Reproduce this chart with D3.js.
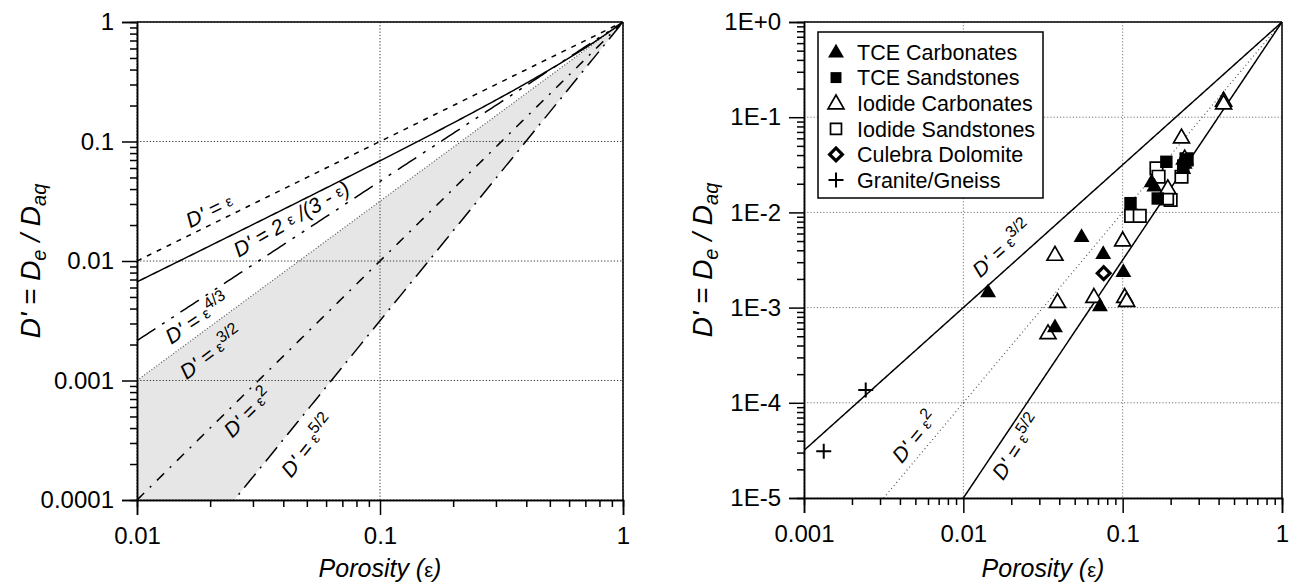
<!DOCTYPE html>
<html><head><meta charset="utf-8">
<script src="https://cdn.jsdelivr.net/npm/d3@7"></script>
<style>
body{margin:0;background:#fff;}
svg{display:block;font-family:"Liberation Sans",Arial,sans-serif;}
</style></head>
<body><svg id="c" width="1295" height="583"></svg>
<script>
// ---------- data ----------
const leftXTicks = [0.01, 0.1, 1];
const leftXTickLabels = ["0.01", "0.1", "1"];
const leftYTicks = [1, 0.1, 0.01, 0.001, 0.0001];
const leftYTickLabels = ["1", "0.1", "0.01", "0.001", "0.0001"];
const rightXTicks = [0.001, 0.01, 0.1, 1];
const rightXTickLabels = ["0.001", "0.01", "0.1", "1"];
const rightYTicks = [1, 0.1, 0.01, 0.001, 0.0001, 0.00001];
const rightYTickLabels = ["1E+0", "1E-1", "1E-2", "1E-3", "1E-4", "1E-5"];

// model curves: exponent n in D' = eps^n
const leftExponents = [1, 4/3, 3/2, 2, 5/2];
const rightExponents = [3/2, 2, 5/2];

// measured points [porosity, D']
const tceCarbonates = [[0.0143,0.00147],[0.0376,0.00063],[0.0552,0.0056],[0.0755,0.0037],[0.072,0.00105],[0.101,0.0024],[0.152,0.021],[0.158,0.019],[0.245,0.033],[0.24,0.029]];
const tceSandstones = [[0.112,0.0125],[0.166,0.014],[0.188,0.034],[0.24,0.031],[0.25,0.036]];
const iodideCarbonates = [[0.034,0.00054],[0.039,0.00115],[0.0376,0.0036],[0.066,0.0013],[0.1,0.0051],[0.103,0.0013],[0.106,0.00118],[0.192,0.018],[0.234,0.0615],[0.245,0.037],[0.43,0.15],[0.43,0.14]];
const iodideSandstones = [[0.113,0.0092],[0.128,0.0092],[0.163,0.029],[0.168,0.0237],[0.2,0.0135],[0.234,0.0237],[0.252,0.036],[0.19,0.014]];
const culebraDolomite = [[0.076,0.0023]];
const graniteGneiss = [[0.00133,0.000031],[0.00244,0.000136]];
const legendLabels = ["TCE Carbonates","TCE Sandstones","Iodide Carbonates","Iodide Sandstones","Culebra Dolomite","Granite/Gneiss"];

// ---------- drawing ----------
const svg = d3.select("#c");
const L = {x0:137, x1:623, y0:22, y1:500};
const R = {x0:804, x1:1282, y0:22, y1:498};

const lx = d3.scaleLog().domain([0.01,1]).range([L.x0,L.x1]);
const ly = d3.scaleLog().domain([0.0001,1]).range([L.y1,L.y0]);
const rx = d3.scaleLog().domain([0.001,1]).range([R.x0,R.x1]);
const ry = d3.scaleLog().domain([0.00001,1]).range([R.y1,R.y0]);

const TICKFONT = 24;

function minorTicks(dom){
  const out=[]; const lo=Math.round(Math.log10(dom[0])), hi=Math.round(Math.log10(dom[1]));
  for(let e=lo; e<hi; e++) for(let k=2;k<=9;k++) out.push(k*Math.pow(10,e));
  return out;
}
const defs = svg.append("defs");
function clip(P,id){
  defs.append("clipPath").attr("id",id).append("rect")
    .attr("x",P.x0).attr("y",P.y0).attr("width",P.x1-P.x0).attr("height",P.y1-P.y0);
}
function grid(P, sx, sy, xt, yt, color){
  const g = svg.append("g");
  g.selectAll(".gx").data(xt).join("line")
    .attr("x1",d=>sx(d)).attr("x2",d=>sx(d)).attr("y1",P.y0).attr("y2",P.y1)
    .attr("stroke",color).attr("stroke-width",1).attr("stroke-dasharray","1.2,2");
  g.selectAll(".gy").data(yt).join("line")
    .attr("y1",d=>sy(d)).attr("y2",d=>sy(d)).attr("x1",P.x0).attr("x2",P.x1)
    .attr("stroke",color).attr("stroke-width",1).attr("stroke-dasharray","1.2,2");
}
function axes(P, sx, sy, xt, xtl, yt, ytl){
  const ax = svg.append("g");
  const xMinor = d3.axisBottom(sx).tickValues(minorTicks(sx.domain())).tickSize(7).tickFormat("");
  const xMajor = d3.axisBottom(sx).tickValues(xt).tickSize(15).tickPadding(12).tickFormat((d,i)=>xtl[i]);
  const yMinor = d3.axisLeft(sy).tickValues(minorTicks(sy.domain())).tickSize(7).tickFormat("");
  const yMajor = d3.axisLeft(sy).tickValues(yt).tickSize(15).tickPadding(8).tickFormat((d,i)=>ytl[i]);
  ax.append("g").attr("transform",`translate(0,${P.y1})`).call(xMinor);
  ax.append("g").attr("transform",`translate(0,${P.y1})`).call(xMajor);
  ax.append("g").attr("transform",`translate(${P.x0},0)`).call(yMinor);
  ax.append("g").attr("transform",`translate(${P.x0},0)`).call(yMajor);
  ax.selectAll(".domain").attr("stroke","#000").attr("stroke-width",1.5);
  ax.selectAll(".tick line").attr("stroke","#000").attr("stroke-width",1.5);
  ax.selectAll(".tick text").attr("font-size",TICKFONT).attr("fill","#000").attr("font-family","Liberation Sans, Arial, sans-serif");
  ax.append("line").attr("x1",P.x0).attr("x2",P.x1).attr("y1",P.y0).attr("y2",P.y0).attr("stroke","#000").attr("stroke-width",1.5);
  ax.append("line").attr("x1",P.x1).attr("x2",P.x1).attr("y1",P.y0).attr("y2",P.y1).attr("stroke","#000").attr("stroke-width",1.5);
}
function yTitle(x, cy){
  const t = svg.append("text").attr("transform",`translate(${x},${cy}) rotate(-90)`)
    .attr("text-anchor","middle").attr("font-size",28).attr("font-style","italic");
  t.append("tspan").text("D' = D");
  t.append("tspan").attr("font-size",20).attr("dy",6).text("e");
  t.append("tspan").attr("dy",-6).text(" / D");
  t.append("tspan").attr("font-size",20).attr("dy",6).text("aq");
}
function xTitle(cx, y){
  const t = svg.append("text").attr("x",cx).attr("y",y).attr("text-anchor","middle").attr("font-size",25).attr("font-style","italic");
  t.append("tspan").text("Porosity (");
  t.append("tspan").attr("font-style","normal").attr("font-size",20).text("ε");
  t.append("tspan").text(")");
}
function label(g, cx, cy, ang, parts){
  const t = g.append("text").attr("transform",`translate(${cx},${cy}) rotate(${-ang})`)
    .attr("text-anchor","middle").attr("dominant-baseline","middle").attr("font-size",21).attr("font-style","italic");
  parts.forEach(p=>{
    const s=t.append("tspan").text(p.t);
    if(p.eps) s.attr("font-style","normal").attr("font-size",15);
    if(p.sup) s.attr("font-style","normal").attr("font-size",16).attr("dy",-7);
  });
}

// ===== LEFT PLOT =====
clip(L,"clipL");
const epsGrid = d3.range(-2, 0.0001, 0.01).map(e=>Math.pow(10,e));
const bandG = svg.append("g").attr("clip-path","url(#clipL)");
const band = d3.area().x(d=>lx(d)).y0(d=>ly(Math.pow(d,leftExponents[4]))).y1(d=>ly(Math.pow(d,leftExponents[2])));
bandG.append("path").attr("d",band(epsGrid)).attr("fill","#e6e6e6");
grid(L, lx, ly, leftXTicks, leftYTicks, "#333");
const cL = svg.append("g").attr("clip-path","url(#clipL)");
const lineL = n => d3.line().x(d=>lx(d)).y(d=>ly(Math.pow(d,n)));
const styles = ["5,6","22,8,3,8,3,8","1,2","10,8,2,8","18,7,2,7"];
leftExponents.forEach((n,i)=>{
  cL.append("path").attr("d",lineL(n)(epsGrid)).attr("fill","none")
    .attr("stroke", i===2?"#555":"#000").attr("stroke-width", i===2?1.2:1.5).attr("stroke-dasharray",styles[i]);
});
cL.append("path").attr("d",d3.line().x(d=>lx(d)).y(d=>ly(2*d/(3-d)))(epsGrid))
  .attr("fill","none").attr("stroke","#000").attr("stroke-width",1.5);
axes(L, lx, ly, leftXTicks, leftXTickLabels, leftYTicks, leftYTickLabels);

const labL = svg.append("g");
const angL = n => Math.atan(n*119.5/243)*180/Math.PI;
label(labL, 210, 212, angL(1), [{t:"D' = "},{t:"ε",eps:true}]);
label(labL, 292, 220, 30, [{t:"D' = 2 "},{t:"ε",eps:true},{t:" /(3 - "},{t:"ε",eps:true},{t:")"}]);
label(labL, 198, 320, angL(4/3), [{t:"D' = "},{t:"ε",eps:true},{t:"4/3",sup:true}]);
label(labL, 212, 354, angL(1.5), [{t:"D' = "},{t:"ε",eps:true},{t:"3/2",sup:true}]);
label(labL, 249, 414, angL(2), [{t:"D' = "},{t:"ε",eps:true},{t:"2",sup:true}]);
label(labL, 309, 447, angL(2.5), [{t:"D' = "},{t:"ε",eps:true},{t:"5/2",sup:true}]);

yTitle(40, 261);
xTitle(380, 577);

// ===== RIGHT PLOT =====
clip(R,"clipR");
grid(R, rx, ry, rightXTicks, rightYTicks, "#777");
const cR = svg.append("g").attr("clip-path","url(#clipR)");
const epsGridR = d3.range(-3, 0.0001, 0.01).map(e=>Math.pow(10,e));
const lineR = n => d3.line().x(d=>rx(d)).y(d=>ry(Math.pow(d,n)));
rightExponents.forEach((n,i)=>{
  cR.append("path").attr("d",lineR(n)(epsGridR)).attr("fill","none")
    .attr("stroke", i===1?"#555":"#000").attr("stroke-width", i===1?1.2:1.5)
    .attr("stroke-dasharray", i===1?"1,3":null);
});
axes(R, rx, ry, rightXTicks, rightXTickLabels, rightYTicks, rightYTickLabels);

const labR = svg.append("g");
const angR = n => Math.atan(n*95.2/159.4)*180/Math.PI;
label(labR, 1003, 250, angR(1.5), [{t:"D' = "},{t:"ε",eps:true},{t:"3/2",sup:true}]);
label(labR, 916, 438, angR(2), [{t:"D' = "},{t:"ε",eps:true},{t:"2",sup:true}]);
label(labR, 1018, 448, angR(2.5), [{t:"D' = "},{t:"ε",eps:true},{t:"5/2",sup:true}]);

// markers
const tri = d3.symbol().type(d3.symbolTriangle).size(110);
const sq = d3.symbol().type(d3.symbolSquare).size(155);
const sqL = d3.symbol().type(d3.symbolSquare).size(120);
function drawMarker(g, kind, x, y, leg){
  if(kind===0) g.append("path").attr("d",tri()).attr("transform",`translate(${x},${y+1})`).attr("fill","#000");
  if(kind===1) g.append("path").attr("d",(leg?sqL:sq)()).attr("transform",`translate(${x},${y})`).attr("fill","#000");
  if(kind===2) g.append("path").attr("d",tri()).attr("transform",`translate(${x},${y+1})`).attr("fill","#fff").attr("stroke","#000").attr("stroke-width",1.7);
  if(kind===3) g.append("path").attr("d",(leg?sqL:sq)()).attr("transform",`translate(${x},${y})`).attr("fill","#fff").attr("stroke","#000").attr("stroke-width",1.7);
  if(kind===4) g.append("rect").attr("x",-4.5).attr("y",-4.5).attr("width",9).attr("height",9)
      .attr("transform",`translate(${x},${y}) rotate(45)`).attr("fill","#fff").attr("stroke","#000").attr("stroke-width",3.2);
  if(kind===5) g.append("path").attr("d","M-7.5,0H7.5M0,-7.5V7.5").attr("transform",`translate(${x},${y})`).attr("stroke","#000").attr("stroke-width",2);
}
const series = [tceCarbonates, tceSandstones, iodideCarbonates, iodideSandstones, culebraDolomite, graniteGneiss];
const drawOrder = [3,2,1,0,4,5];
const pts = svg.append("g");
drawOrder.forEach(k=>{
  series[k].forEach(d=>drawMarker(pts, k, rx(d[0]), ry(d[1]), false));
});

// legend
const lg = svg.append("g");
lg.append("rect").attr("x",818).attr("y",32).attr("width",225).attr("height",166)
  .attr("fill","#fff").attr("stroke","#000").attr("stroke-width",1.5);
const rowY = d3.scaleLinear().domain([0,5]).range([52,180]);
legendLabels.forEach((t,i)=>{
  drawMarker(lg, i, 836, rowY(i), true);
  lg.append("text").attr("x",857).attr("y",rowY(i)).attr("dy","0.36em").attr("font-size",21.5).text(t);
});

yTitle(712, 260);
xTitle(1043, 577);
</script></body></html>
